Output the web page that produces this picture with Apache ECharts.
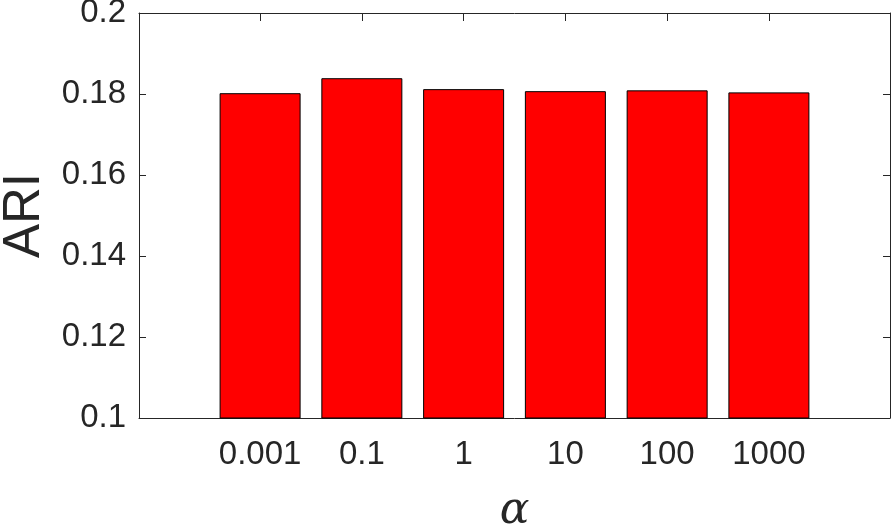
<!DOCTYPE html>
<html>
<head>
<meta charset="utf-8">
<script src="https://cdn.jsdelivr.net/npm/echarts@6/dist/echarts.min.js"></script>
<style>
html,body{margin:0;padding:0;background:#fff;}
#chart{width:893px;height:524px;}
</style>
</head>
<body>
<div id="chart"></div>
<script>
var categories = ['0.001', '0.1', '1', '10', '100', '1000'];
var ariValues = [0.1802, 0.1839, 0.1812, 0.1807, 0.1809, 0.1804];
var yTicks = [0.1, 0.12, 0.14, 0.16, 0.18, 0.2];
var positions = categories.map(function (c, i) { return i + 1; });

var chart = echarts.init(document.getElementById('chart'));
var axisColor = '#262626';
var font = 'Liberation Sans, Arial, Helvetica, sans-serif';

var xCommon = {
  type: 'value',
  min: -0.19,
  max: 7.19,
  axisLine: { show: true, onZero: false, lineStyle: { color: axisColor, width: 1 } },
  axisTick: { show: true, inside: true, length: 8, customValues: positions, lineStyle: { color: axisColor, width: 1 } },
  splitLine: { show: false }
};
var yCommon = {
  type: 'value',
  min: 0.1,
  max: 0.2,
  interval: 0.02,
  axisLine: { show: true, onZero: false, lineStyle: { color: axisColor, width: 1 } },
  axisTick: { show: true, inside: true, length: 7, lineStyle: { color: axisColor, width: 1 } },
  splitLine: { show: false }
};

chart.setOption({
  animation: false,
  backgroundColor: '#ffffff',
  grid: { left: 139, right: 3, top: 13, bottom: 106, containLabel: false, outerBoundsMode: 'none' },
  xAxis: [
    Object.assign({}, xCommon, {
      position: 'bottom',
      name: 'α',
      nameLocation: 'middle',
      nameGap: 72,
      nameTextStyle: { fontFamily: 'DejaVu Serif, Liberation Serif, serif', fontStyle: 'italic', fontSize: 44, color: axisColor },
      axisLabel: {
        show: true,
        customValues: positions,
        margin: 20,
        fontSize: 33,
        fontFamily: font,
        color: axisColor,
        formatter: function (v) { return categories[Math.round(v) - 1]; }
      }
    }),
    Object.assign({}, xCommon, { position: 'top', axisLabel: { show: false } })
  ],
  yAxis: [
    Object.assign({}, yCommon, {
      position: 'left',
      name: 'ARI',
      nameLocation: 'middle',
      nameRotate: 90,
      nameGap: 80,
      nameTextStyle: { fontFamily: font, fontSize: 51, color: axisColor },
      axisLabel: {
        show: true,
        margin: 13,
        fontSize: 33,
        fontFamily: font,
        color: axisColor,
        customValues: yTicks,
        formatter: function (v) { return String(parseFloat(v.toFixed(4))); }
      }
    }),
    Object.assign({}, yCommon, { position: 'right', axisLabel: { show: false } })
  ],
  series: [{
    type: 'bar',
    xAxisIndex: 0,
    yAxisIndex: 0,
    barWidth: 81,
    clip: true,
    itemStyle: { color: '#ff0000', borderColor: '#000000', borderWidth: 1 },
    data: ariValues.map(function (v, i) { return [positions[i], v]; })
  }]
});
</script>
</body>
</html>
